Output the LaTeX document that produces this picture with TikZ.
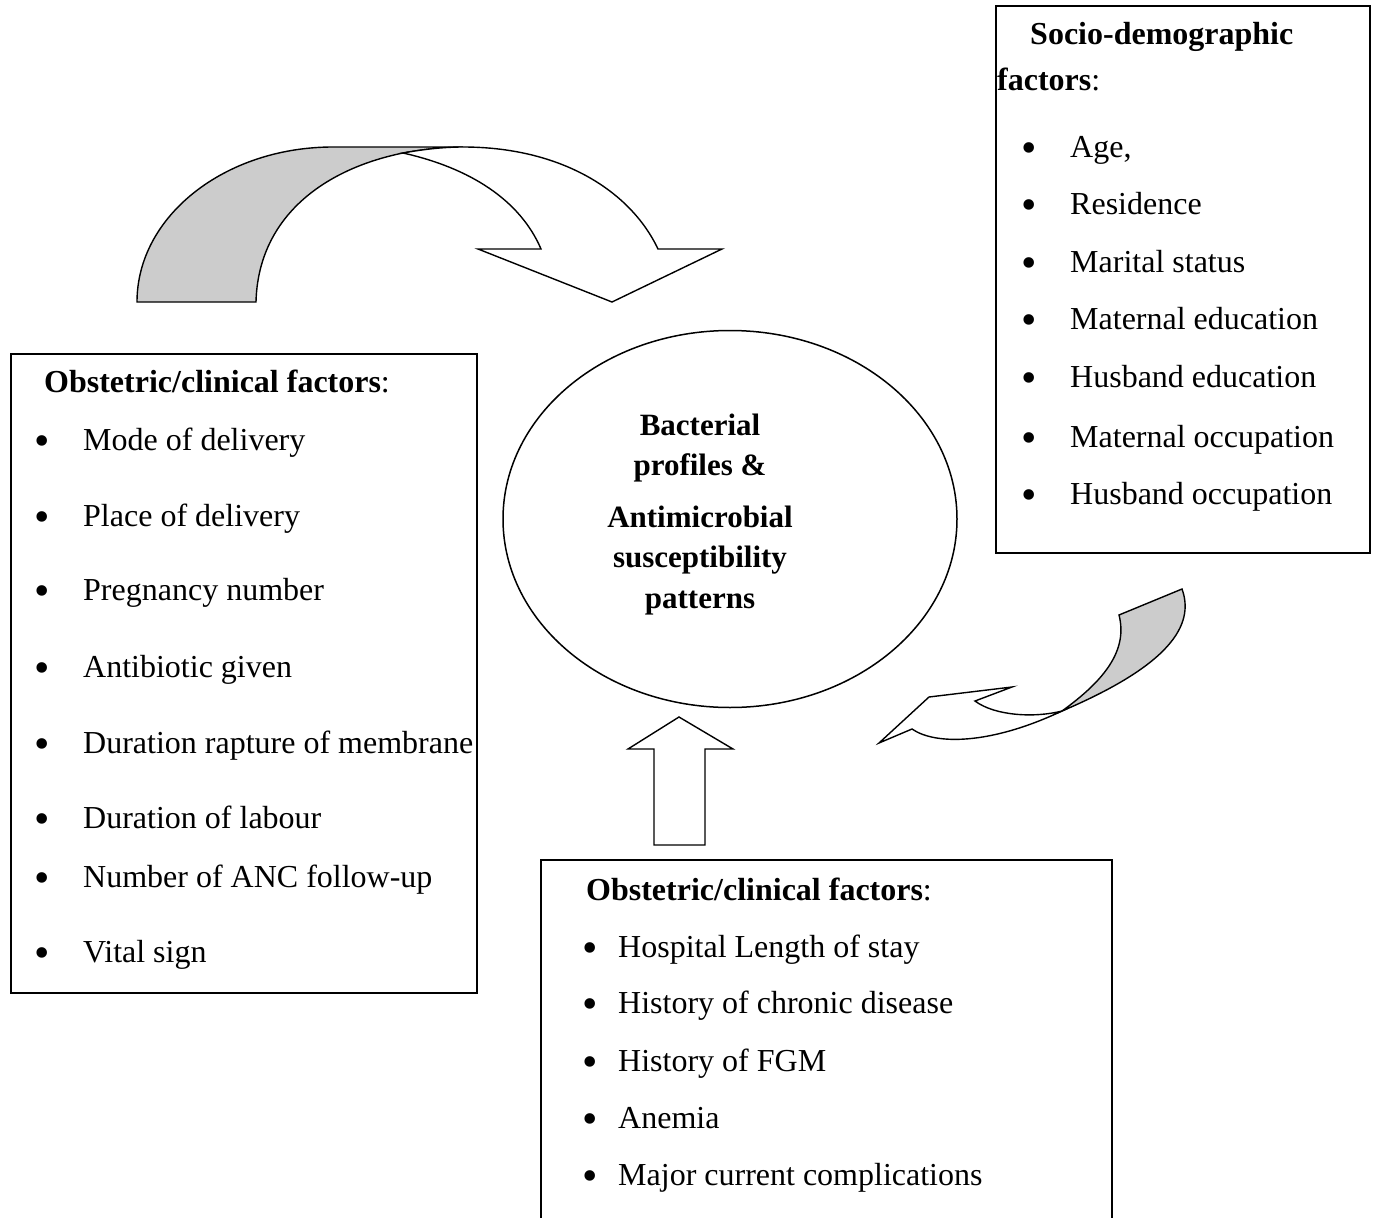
\documentclass[tikz,border=0pt]{standalone}
\usepackage{fontspec}
\setmainfont{Liberation Serif}
\usetikzlibrary{shapes.geometric}
\newcommand\itemfont{\fontsize{32pt}{38pt}\selectfont}
\newcommand\bulfont{\fontsize{44pt}{50pt}\selectfont}
\newcommand\corefont{\fontsize{31pt}{37pt}\selectfont\bfseries}
\definecolor{bandgrey}{HTML}{CCCCCC}
\begin{document}
\begin{tikzpicture}[x=1pt,y=-1pt,
  box/.style={draw=black, line width=2pt, inner sep=0pt},
  blockarrow/.style={draw=black, line width=1.4pt, line join=miter},
  txt/.style={anchor=base west, inner sep=0pt, font=\itemfont},
  bul/.style={anchor=base, inner sep=0pt, font=\bulfont},
  coretxt/.style={anchor=base, inner sep=0pt, font=\corefont}]
\useasboundingbox (0,0) rectangle (1377,1218);

% ---------- top curved arrow ----------
\filldraw[blockarrow, fill=bandgrey]
  (137,302) .. controls (137,216) and (225,147) .. (333,147) -- (463,147)
  .. controls (445,147) and (425,149) .. (403,153)
  .. controls (320,170) and (258,220) .. (256,302) -- cycle;
\filldraw[blockarrow, fill=white]
  (403,153) .. controls (425,149) and (445,147) .. (463,147)
  .. controls (560,147) and (630,190) .. (658,249)
  -- (722,249) -- (612,302) -- (478,249) -- (541,249)
  .. controls (520,200) and (470,168) .. (403,153) -- cycle;

% ---------- right curled arrow ----------
\filldraw[blockarrow, fill=bandgrey]
  (1119,615) -- (1182,589)
  .. controls (1195,625) and (1170,665) .. (1062,711)
  .. controls (1105,680) and (1128,650) .. (1119,615) -- cycle;
\filldraw[blockarrow, fill=white]
  (1062,711) .. controls (1035,718) and (995,716) .. (975,701)
  -- (1012,687) -- (929,697) -- (879,743) -- (912,729)
  .. controls (935,745) and (990,745) .. (1062,711) -- cycle;

% ---------- up arrow ----------
\filldraw[blockarrow, fill=white]
  (654,845) -- (654,749) -- (628,749) -- (679,717) -- (733,749)
  -- (705,749) -- (705,845) -- cycle;

% ---------- central ellipse ----------
\node[ellipse, draw=black, line width=1.5pt, minimum width=454pt,
      minimum height=377pt, inner sep=0pt] (core) at (730,519) {};
\node[coretxt] (c1) at (700,435) {Bacterial};
\node[coretxt] (c2) at (700,475) {profiles \&};
\node[coretxt] (c3) at (700,527) {Antimicrobial};
\node[coretxt] (c4) at (700,567) {susceptibility};
\node[coretxt] (c5) at (700,608) {patterns};

% ---------- left box ----------
\node[box, minimum width=466pt, minimum height=639pt] (leftbox) at (244,673.5) {};
\node[txt] (lh) at (44,392) {\textbf{Obstetric/clinical factors}:};
\foreach \t/\y [count=\i] in {Mode of delivery/450, Place of delivery/526,
  Pregnancy number/600, Antibiotic given/677, Duration rapture of membrane/753,
  Duration of labour/828, Number of ANC follow-up/887, Vital sign/962}{
  \node[bul] (lb\i) at (42,\y+5) {\textbullet};
  \node[txt] (lt\i) at (83,\y) {\t};
}

% ---------- right box ----------
\node[box, minimum width=374pt, minimum height=547pt] (rightbox) at (1183,279.5) {};
\node[txt] (rh1) at (1030,45) {\textbf{Socio-demographic}};
\node[txt] (rh2) at (997,90) {\textbf{factors}:};
\foreach \t/\y [count=\i] in {{Age,}/157, Residence/214.5, Marital status/272,
  Maternal education/329.5, Husband education/387, Maternal occupation/447,
  Husband occupation/504}{
  \node[bul] (rb\i) at (1029,\y+5) {\textbullet};
  \node[txt] (rt\i) at (1070,\y) {\t};
}

% ---------- bottom box (open at the bottom) ----------
\coordinate (bbl) at (541,1218);
\coordinate (bbr) at (1112,1218);
\draw[line width=2pt] (bbl) |- (1112,860) -- (bbr);
\node[txt] (bh) at (586,900) {\textbf{Obstetric/clinical factors}:};
\foreach \t/\y [count=\i] in {Hospital Length of stay/957,
  History of chronic disease/1013, History of FGM/1071, Anemia/1128,
  Major current complications/1185}{
  \node[bul] (bb\i) at (590,\y+5) {\textbullet};
  \node[txt] (bt\i) at (618,\y) {\t};
}
\end{tikzpicture}
\end{document}
